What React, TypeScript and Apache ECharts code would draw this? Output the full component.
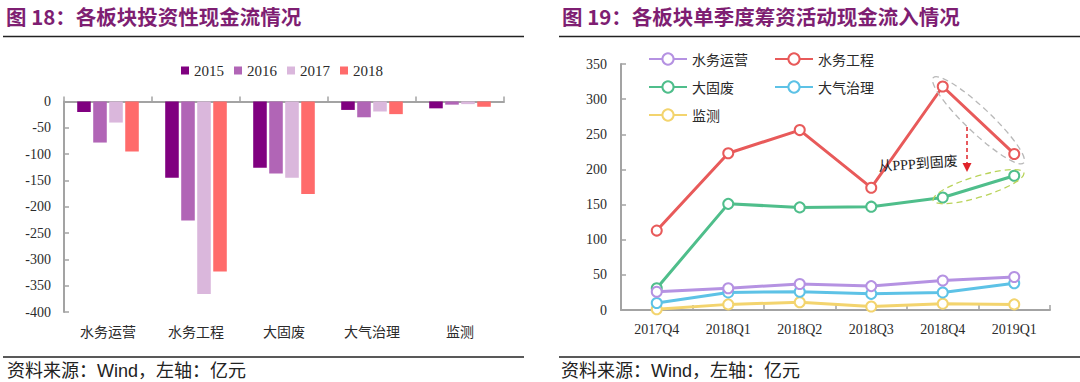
import React, { useEffect, useRef } from "react";
import * as echarts from "echarts";

// ---- Left chart data (图18) ----
const barCategories = ["水务运营", "水务工程", "大固废", "大气治理", "监测"];
const barYears = ["2015", "2016", "2017", "2018"];
const bar2015 = [-20, -145, -126, -16, -13];
const bar2016 = [-78, -226, -137, -30, -6];
const bar2017 = [-40, -366, -145, -19, -5];
const bar2018 = [-95, -323, -176, -24, -10];
const barYMin = -400;
const barYMax = 0;
const barYStep = 50;

// ---- Right chart data (图19) ----
const quarters = ["2017Q4", "2018Q1", "2018Q2", "2018Q3", "2018Q4", "2019Q1"];
const lineNames = ["水务运营", "水务工程", "大固废", "大气治理", "监测"];
const waterOps = [26, 31, 37, 34, 42, 47];
const waterEng = [113, 223, 256, 174, 318, 222];
const solidWaste = [31, 151, 146, 147, 160, 191];
const airTreatment = [10, 25, 26, 23, 25, 38];
const monitoring = [1, 8, 11, 5, 9, 8];
const lineYMin = 0;
const lineYMax = 350;
const lineYStep = 50;

const titleLeft = "图 18：各板块投资性现金流情况";
const titleRight = "图 19：各板块单季度筹资活动现金流入情况";
const sourceText = "资料来源：Wind，左轴：亿元";
const annotationText = "从PPP到固废";

export default function App() {
  const ref = useRef<HTMLDivElement>(null);

  useEffect(() => {
    document.body.style.margin = "0";
    const chart = echarts.init(ref.current as HTMLDivElement, null, { renderer: "svg" });

    const serif = '"Liberation Serif", "Noto Sans CJK SC", serif';
    const cjk = '"Noto Sans CJK SC", sans-serif';
    const axisGray = "#A3A3A3";
    const labelColor = "#2b2b2b";
    const titleColor = "#7E1E72";
    const barColors = ["#800080", "#B165B6", "#DAB7DC", "#FF6B6B"];
    const lineColors = ["#B592E2", "#E85A5A", "#4FBE8B", "#5DC2E6", "#F3D46E"];
    const lineData = [waterOps, waterEng, solidWaste, airTreatment, monitoring];
    const barData = [bar2015, bar2016, bar2017, bar2018];

    const baseGraphic: any[] = [
      {
        id: "t1", type: "text", x: 6, y: 16,
        style: {
          text: titleLeft, fontSize: 20.5, fontWeight: "bold", fill: titleColor, fontFamily: cjk,
          verticalAlign: "middle", lineHeight: 24,
        },
      },
      {
        id: "t2", type: "text", x: 562, y: 16,
        style: {
          text: titleRight, fontSize: 20.5, fontWeight: "bold", fill: titleColor, fontFamily: cjk,
          verticalAlign: "middle", lineHeight: 24,
        },
      },
      { id: "l1", type: "line", shape: { x1: 3, y1: 36.5, x2: 524, y2: 36.5 }, style: { stroke: "#222", lineWidth: 1.5 } },
      { id: "l2", type: "line", shape: { x1: 559, y1: 36.5, x2: 1080, y2: 36.5 }, style: { stroke: "#222", lineWidth: 1.5 } },
      { id: "l3", type: "line", shape: { x1: 3, y1: 357, x2: 524, y2: 357 }, style: { stroke: "#222", lineWidth: 1.5 } },
      { id: "l4", type: "line", shape: { x1: 559, y1: 357, x2: 1080, y2: 357 }, style: { stroke: "#222", lineWidth: 1.5 } },
      {
        id: "s1", type: "text", left: 7, top: 362,
        style: { text: sourceText, fontSize: 18, fill: "#222", fontFamily: '"Liberation Sans", "Noto Sans CJK SC", sans-serif' },
      },
      {
        id: "s2", type: "text", left: 561, top: 362,
        style: { text: sourceText, fontSize: 18, fill: "#222", fontFamily: '"Liberation Sans", "Noto Sans CJK SC", sans-serif' },
      },
    ];

    const option: any = {
      animation: false,
      backgroundColor: "#ffffff",
      grid: [
        { left: 64, right: 1080 - 504, top: 101.5, bottom: 70, containLabel: false },
        { left: 621, right: 30, top: 64, bottom: 72, containLabel: false },
      ],
      legend: [
        {
          data: barYears, left: 176, top: 58, orient: "horizontal",
          itemWidth: 8, itemHeight: 8, itemGap: 10, icon: "rect",
          textStyle: { fontSize: 15, fontFamily: serif, color: labelColor, lineHeight: 15 },
        },
        {
          data: [lineNames[0], lineNames[2], lineNames[4]], left: 643, top: 47, orient: "vertical",
          itemWidth: 38, itemHeight: 14, itemGap: 14,
          textStyle: { fontSize: 14, fontFamily: cjk, color: labelColor, lineHeight: 14 },
        },
        {
          data: [lineNames[1], lineNames[3]], left: 769, top: 47, orient: "vertical",
          itemWidth: 38, itemHeight: 14, itemGap: 14,
          textStyle: { fontSize: 14, fontFamily: cjk, color: labelColor, lineHeight: 14 },
        },
      ],
      xAxis: [
        {
          gridIndex: 0, type: "category", data: barCategories, position: "top",
          axisLine: { show: true, onZero: false, lineStyle: { color: axisGray, width: 2 } },
          axisTick: { show: true, inside: false, length: 5, lineStyle: { color: axisGray, width: 1.5 } },
          axisLabel: { show: false },
        },
        {
          gridIndex: 0, type: "category", data: barCategories, position: "bottom",
          axisLine: { show: false }, axisTick: { show: false },
          axisLabel: { fontSize: 14, fontFamily: cjk, color: labelColor, margin: 12 },
        },
        {
          gridIndex: 1, type: "category", data: quarters, position: "bottom",
          axisLine: { show: true, onZero: false, lineStyle: { color: axisGray, width: 2 } },
          axisTick: { show: true, inside: true, length: 5, lineStyle: { color: axisGray, width: 1.5 } },
          axisLabel: { fontSize: 14, fontFamily: serif, color: labelColor, margin: 12 },
        },
      ],
      yAxis: [
        {
          gridIndex: 0, type: "value", min: barYMin, max: barYMax, interval: barYStep,
          axisLine: { show: true, onZero: false, lineStyle: { color: axisGray, width: 2 } },
          axisTick: { show: true, inside: true, length: 5, lineStyle: { color: axisGray, width: 1.5 } },
          axisLabel: { fontSize: 14, fontFamily: serif, color: labelColor, margin: 13 },
          splitLine: { show: false },
        },
        {
          gridIndex: 1, type: "value", min: lineYMin, max: lineYMax, interval: lineYStep,
          axisLine: { show: true, onZero: false, lineStyle: { color: axisGray, width: 2 } },
          axisTick: { show: true, inside: true, length: 5, lineStyle: { color: axisGray, width: 1.5 } },
          axisLabel: { fontSize: 14, fontFamily: serif, color: labelColor, margin: 14 },
          splitLine: { show: false },
        },
      ],
      series: [
        ...barYears.map((y, i) => ({
          name: y, type: "bar", xAxisIndex: 0, yAxisIndex: 0,
          data: barData[i], barCategoryGap: "30%", barGap: "18%",
          itemStyle: { color: barColors[i] },
        })),
        ...lineNames.map((n, i) => ({
          name: n, type: "line", xAxisIndex: 2, yAxisIndex: 1,
          data: lineData[i], symbol: "emptyCircle", symbolSize: 10,
          lineStyle: { color: lineColors[i], width: 3 },
          itemStyle: { color: lineColors[i], borderColor: lineColors[i], borderWidth: 1.5 },
          z: 10 - i,
        })),
      ],
      graphic: baseGraphic,
    };

    chart.setOption(option);

    // annotations positioned from the data through the chart's own scales
    const px = (i: number, v: number) => chart.convertToPixel({ gridIndex: 1 }, [i, v]) as number[];
    const ellipseAround = (a: number[], b: number[], padX: number, ry: number, color: string, id: string) => {
      const cx = (a[0] + b[0]) / 2;
      const cy = (a[1] + b[1]) / 2;
      const dx = b[0] - a[0];
      const dy = b[1] - a[1];
      const len = Math.sqrt(dx * dx + dy * dy);
      return {
        id, type: "ellipse", x: cx, y: cy, rotation: -Math.atan2(dy, dx),
        shape: { cx: 0, cy: 0, rx: len / 2 + padX, ry },
        style: { fill: "none", stroke: color, lineWidth: 1.3, lineDash: [6, 4] },
        z: 20,
      };
    };
    const r4 = px(4, waterEng[4]);
    const r5 = px(5, waterEng[5]);
    const g4 = px(4, solidWaste[4]);
    const g5 = px(5, solidWaste[5]);
    const ax = 967;
    const ay1 = 127;
    const ay2 = 172;
    const annotations: any[] = [
      ellipseAround(r4, r5, 13, 12.5, "#B8B8B8", "e1"),
      ellipseAround(g4, g5, 10, 10.5, "#B9D35A", "e2"),
      {
        id: "a1", type: "line", shape: { x1: ax, y1: ay1, x2: ax, y2: ay2 - 7 },
        style: { stroke: "#E0242A", lineWidth: 1.5, lineDash: [4, 3] }, z: 20,
      },
      {
        id: "a2", type: "polygon", shape: { points: [[ax - 4.5, ay2 - 9], [ax + 4.5, ay2 - 9], [ax, ay2]] },
        style: { fill: "#E0242A" }, z: 20,
      },
      {
        id: "a3", type: "text", x: 918, y: 164, rotation: 0.07,
        style: {
          text: annotationText, fontSize: 14, fontFamily: serif, fill: "#222",
          align: "center", verticalAlign: "middle",
        },
        z: 20,
      },
    ];
    chart.setOption({ graphic: [...baseGraphic, ...annotations] });

    return () => {
      chart.dispose();
    };
  }, []);

  return (
    <div
      ref={ref}
      style={{ width: 1080, height: 382, position: "fixed", left: 0, top: 0, background: "#fff" }}
    />
  );
}
